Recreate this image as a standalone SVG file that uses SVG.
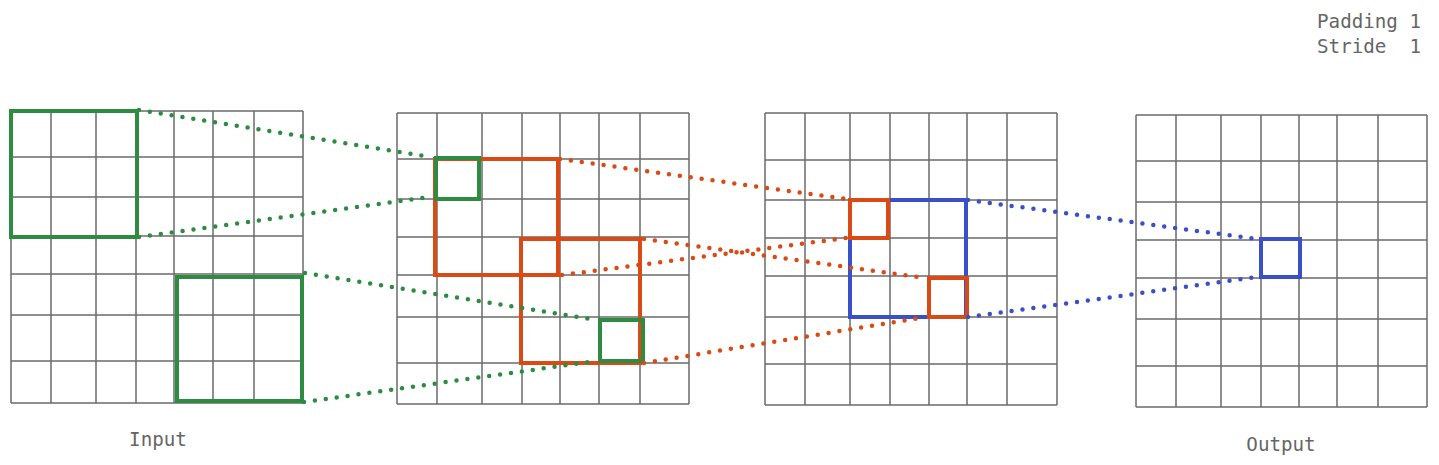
<svg xmlns="http://www.w3.org/2000/svg" width="1439" height="465" viewBox="0 0 1439 465">
<style>
.grid{fill:none;stroke:#6b6b6b;stroke-width:1.5}
.hl{fill:none;stroke-width:4}
.g{stroke:#2e8b42}
.o{stroke:#d94a14}
.b{stroke:#3a50c8}
.dot{fill:none;stroke-width:4.5;stroke-linecap:round;stroke-dasharray:0 11}
.lbl{font-family:"DejaVu Sans Mono","Liberation Mono",monospace;font-size:19.2px;fill:#666}
</style>
<rect width="1439" height="465" fill="#fff"/>
<g id="input">
<path class="grid" d="M11 111V403M51 111V403M96 111V403M136 111V403M174 111V403M213 111V403M254 111V403M303 111V403M11 111H303M11 157H303M11 197H303M11 236H303M11 274H303M11 315H303M11 361H303M11 403H303"/>
<rect class="hl g" x="11" y="111" width="126" height="126"/>
<rect class="hl g" x="177" y="277" width="125" height="124"/>
</g>
<g id="layer2">
<path class="grid" d="M397 113V404M437 113V404M482 113V404M522 113V404M560 113V404M599 113V404M640 113V404M689 113V404M397 113H689M397 159H689M397 199H689M397 237H689M397 275H689M397 317H689M397 363H689M397 404H689"/>
<rect class="hl o" x="435" y="159" width="123" height="116"/>
<rect class="hl o" x="521" y="239" width="119" height="124"/>
<rect class="hl g" x="436" y="158" width="43" height="41"/>
<rect class="hl g" x="600" y="320" width="43" height="41"/>
</g>
<g id="layer3">
<path class="grid" d="M765 113V405M805 113V405M850 113V405M890 113V405M929 113V405M967 113V405M1007 113V405M1057 113V405M765 113H1057M765 160H1057M765 200H1057M765 238H1057M765 276H1057M765 317H1057M765 364H1057M765 405H1057"/>
<rect class="hl b" x="850" y="200" width="116" height="117"/>
<rect class="hl o" x="850" y="200" width="38" height="38"/>
<rect class="hl o" x="929" y="278" width="38" height="39"/>
</g>
<g id="output">
<path class="grid" d="M1136 115V407M1176 115V407M1221 115V407M1261 115V407M1299 115V407M1337 115V407M1378 115V407M1427 115V407M1136 115H1427M1136 161H1427M1136 202H1427M1136 240H1427M1136 278H1427M1136 319H1427M1136 366H1427M1136 407H1427"/>
<rect class="hl b" x="1261" y="239" width="39" height="38"/>
</g>
<g id="connectors">
<path class="dot g" d="M139 110L430 157M139 237L430 197M305 273L596 320M304 402L596 361"/>
<path class="dot o" d="M560 159L846 199M562 275L846 238M644 239L926 278M644 363L926 317"/>
<path class="dot b" d="M968 200L1257 239M968 317L1257 277"/>
</g>
<g id="labels">
<text class="lbl" x="1421" y="28" text-anchor="end" xml:space="preserve">Padding 1</text>
<text class="lbl" x="1421" y="53" text-anchor="end" xml:space="preserve">Stride  1</text>
<text class="lbl" x="158" y="446" text-anchor="middle">Input</text>
<text class="lbl" x="1281" y="451" text-anchor="middle">Output</text>
</g>
</svg>
